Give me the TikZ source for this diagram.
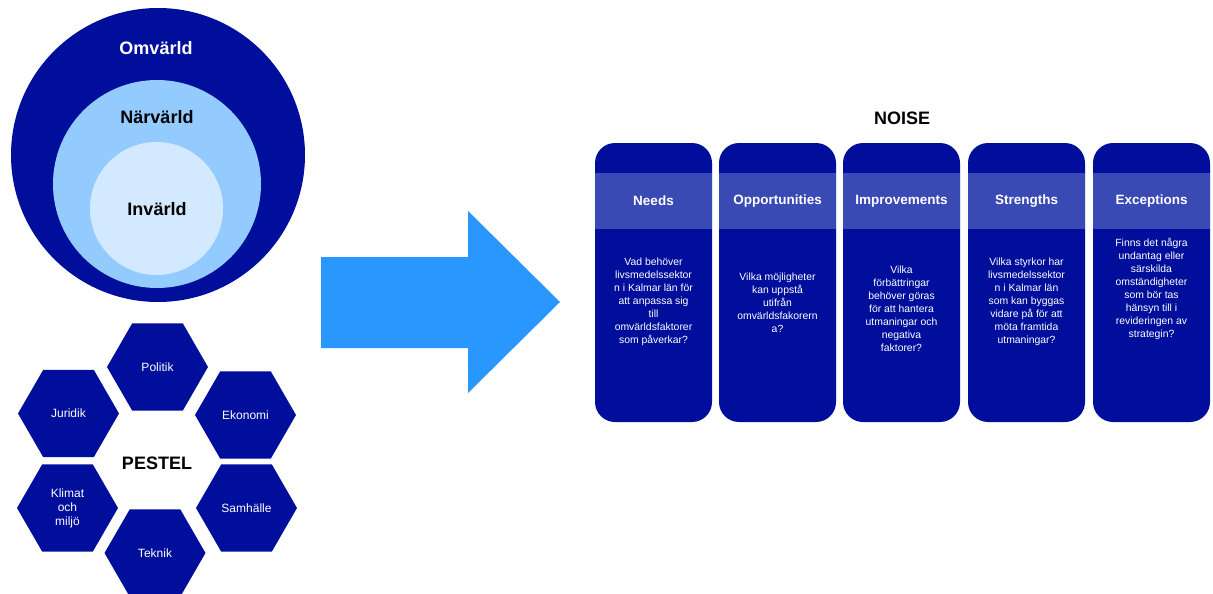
\documentclass[tikz,border=0pt]{standalone}
\usepackage{fontspec}
\setmainfont{Liberation Sans}
\usetikzlibrary{shapes.geometric}
\definecolor{darkblue}{RGB}{0,15,155}
\definecolor{midblue}{RGB}{148,203,255}
\definecolor{paleblue}{RGB}{211,233,255}
\definecolor{arrowblue}{RGB}{41,151,255}
\definecolor{bandblue}{RGB}{58,74,180}
\begin{document}
\begin{tikzpicture}[x=1pt,y=-1pt,
  ring/.style={circle, inner sep=0pt, draw=none},
  bigtitle/.style={font=\fontsize{18}{21}\selectfont\bfseries, inner sep=0pt},
  hexbox/.style={regular polygon, regular polygon sides=6, minimum size=101pt, inner sep=0pt, fill=darkblue, draw=none, text=white, align=center, font=\fontsize{12}{14}\selectfont},
  colbox/.style={rectangle, rounded corners=20pt, fill=darkblue, minimum width=117pt, minimum height=279pt, inner sep=0pt, draw=none},
  bandbox/.style={rectangle, fill=bandblue, minimum width=117pt, minimum height=56pt, inner sep=0pt, draw=none},
  headtext/.style={text=white, font=\fontsize{13.5}{16}\selectfont\bfseries, inner sep=0pt},
  bodytext/.style={text=white, align=center, font=\fontsize{10.4}{13}\selectfont, inner sep=0pt}
]
\useasboundingbox (0,0) rectangle (1213,594);

% circles
\node[ring, fill=darkblue, minimum size=294pt] (omv) at (158,155) {};
\node[ring, fill=midblue, minimum size=208pt] (nar) at (157,184) {};
\node[ring, fill=paleblue, minimum size=133pt] (inv) at (156.5,208.5) {};
\node[bigtitle, text=white] (omvt) at (156,48) {Omvärld};
\node[bigtitle] (nart) at (157,117) {Närvärld};
\node[bigtitle] (invt) at (157,209) {Invärld};

% PESTEL hexagons
\node[hexbox] (pol) at (157.5,367) {Politik};
\node[hexbox] (jur) at (68.5,413.5) {Juridik};
\node[hexbox] (eko) at (245.5,415) {Ekonomi};
\node[hexbox] (kli) at (67.5,508) {Klimat\\och\\miljö};
\node[hexbox] (sam) at (246.5,508) {Samhälle};
\node[hexbox] (tek) at (155,553) {Teknik};
\node[bigtitle] (pestel) at (157,463) {PESTEL};

% arrow
\fill[arrowblue] (321,257) -- (468,257) -- (468,211) -- (560,302) -- (468,393) -- (468,348) -- (321,348) -- cycle;

% NOISE
\node[bigtitle] (noise) at (902,118) {NOISE};

\foreach \cx/\nm/\hd/\by/\bd in {
  653.5/n/Needs/302/{Vad behöver\\livsmedelssektor\\n i Kalmar län för\\att anpassa sig\\till\\omvärldsfaktorer\\som påverkar?},
  777.5/o/Opportunities/303/{Vilka möjligheter\\kan uppstå\\utifrån\\omvärldsfakorern\\a?},
  901.5/i/Improvements/309/{Vilka\\förbättringar\\behöver göras\\för att hantera\\utmaningar och\\negativa\\faktorer?},
  1026.5/s/Strengths/302/{Vilka styrkor har\\livsmedelssektor\\n i Kalmar län\\som kan byggas\\vidare på för att\\möta framtida\\utmaningar?},
  1151.5/e/Exceptions/289/{Finns det några\\undantag eller\\särskilda\\omständigheter\\som bör tas\\hänsyn till i\\revideringen av\\strategin?}}
{
  \node[colbox] (col\nm) at (\cx,282.5) {};
  \node[bandbox] (band\nm) at (\cx,201) {};
  \node[headtext] (head\nm) at (\cx,201) {\hd};
  \node[bodytext] (body\nm) at (\cx,\by) {\bd};
}
\end{tikzpicture}
\end{document}
